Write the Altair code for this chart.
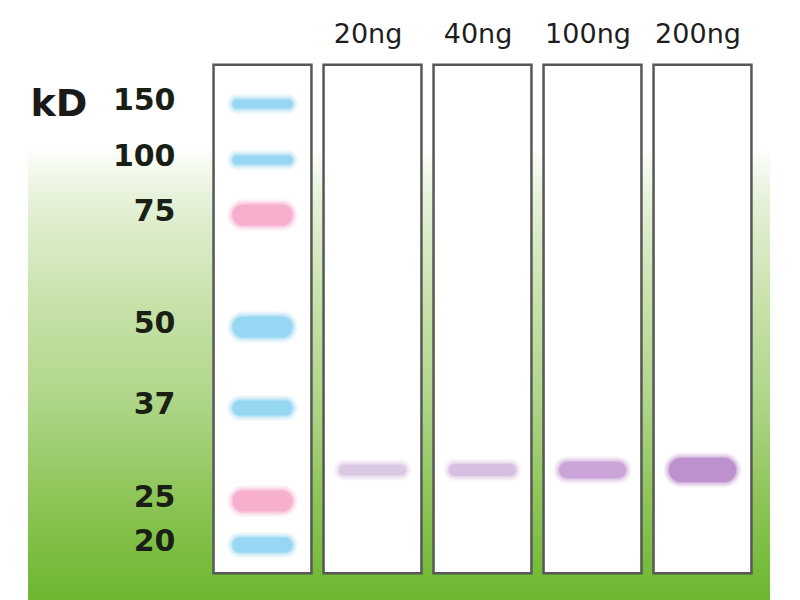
import json

import altair as alt
import pandas as pd

lane_names = ["Marker", "20ng", "40ng", "100ng", "200ng"]

marker_kd = [150, 100, 75, 50, 37, 25, 20]
marker_dye = ["blue", "blue", "pink", "blue", "blue", "pink", "blue"]
marker_strength = [1, 1, 3, 3, 2, 3, 2]

sample_lane = [1, 2, 3, 4]
sample_amount_ng = [20, 40, 100, 200]
sample_band_kd = [29, 29, 29, 29]

gel_top_kd = 185
gel_bottom_kd = 16.8

# ---- layout / style ----
PX_PER_LANE = 110
FONT = "DejaVu Sans"

markers = pd.DataFrame(
    {"lane": 0, "kd": marker_kd, "dye": marker_dye, "strength": marker_strength}
)
samples = pd.DataFrame(
    {"lane": sample_lane, "amount": sample_amount_ng, "kd": sample_band_kd}
)
lanes = pd.DataFrame(
    {"lane": list(range(len(lane_names))), "top": gel_top_kd, "bottom": gel_bottom_kd}
)

x_scale = alt.Scale(domain=[0, 4], range=[234.5, 234.5 + 4 * PX_PER_LANE])
y_scale = alt.Scale(
    domain=marker_kd,
    range=[48, 104, 159, 271, 352, 445, 489],
    zero=False,
    nice=False,
)

x_axis = alt.Axis(
    orient="top",
    values=[1, 2, 3, 4],
    labelExpr=f"{json.dumps(lane_names)}[datum.value]",
    labelFont=FONT,
    labelFontSize=27,
    labelColor="#1e1e1e",
    labelBaseline="alphabetic",
    labelPadding=14,
    labelOffset=-5,
    labelFlush=False,
    labelOverlap=False,
    ticks=False,
    tickSize=0,
    domain=False,
    grid=False,
    title=None,
    zindex=1,
)
y_axis = alt.Axis(
    orient="left",
    values=marker_kd,
    offset=-150,
    labelFont=FONT,
    labelFontSize=30,
    labelFontWeight="bold",
    labelColor="#1a1f16",
    labelPadding=3,
    labelOffset=-4,
    labelOverlap=False,
    ticks=False,
    tickSize=0,
    domain=False,
    grid=False,
    title="kD",
    titleAngle=0,
    titleX=-148,
    titleY=59,
    titleAlign="left",
    titleBaseline="alphabetic",
    titleFont=FONT,
    titleFontSize=38,
    titleFontWeight="bold",
    titleColor="#1a1a1a",
    zindex=1,
)

background = (
    alt.Chart(lanes)
    .mark_rect(
        fill=alt.LinearGradient(
            gradient="linear",
            x1=0, x2=0, y1=0, y2=1,
            stops=[
                alt.GradientStop(color="#ffffff", offset=0),
                alt.GradientStop(color="#ffffff", offset=0.17),
                alt.GradientStop(color="#f8fbf3", offset=0.19),
                alt.GradientStop(color="#e5f1d8", offset=0.265),
                alt.GradientStop(color="#c8e2ab", offset=0.449),
                alt.GradientStop(color="#afd689", offset=0.632),
                alt.GradientStop(color="#8dc557", offset=0.816),
                alt.GradientStop(color="#6cb72f", offset=1),
            ],
        )
    )
    .encode(
        x=alt.value(0), x2=alt.value("width"),
        y=alt.value(0), y2=alt.value("height"),
    )
    .transform_filter("datum.lane == 0")
)

frames = (
    alt.Chart(lanes)
    .transform_calculate(x0="datum.lane - 0.445", x1="datum.lane + 0.445")
    .mark_rect(fill="white", stroke="#575757", strokeWidth=2.5)
    .encode(
        x=alt.X("x0:Q", scale=x_scale, axis=x_axis),
        x2="x1:Q",
        y=alt.Y("top:Q", scale=y_scale, axis=y_axis),
        y2="bottom:Q",
    )
)


def band_layers(data, width_expr, length, color, halos):
    layers = []
    for extra, opacity in halos:
        layer = (
            alt.Chart(data)
            .transform_calculate(w=width_expr)
            .transform_calculate(
                half=f"({length} - datum.w) / 2 / {PX_PER_LANE}",
                wd=f"datum.w + {extra}",
            )
            .transform_calculate(xa="datum.lane - datum.half", xb="datum.lane + datum.half")
            .mark_rule(strokeCap="round", opacity=opacity)
            .encode(
                x=alt.X("xa:Q", scale=x_scale),
                x2="xb:Q",
                y=alt.Y("kd:Q", scale=y_scale),
                strokeWidth=alt.StrokeWidth("wd:Q", scale=None),
                color=color,
            )
        )
        layers.append(layer)
    return layers


# soft edges: stacked translucent strokes, widest first
halo_steps = [(11, 0.1), (8, 0.14), (5, 0.2), (2, 0.3), (0, 0.55)]

marker_color = alt.Color(
    "dye:N",
    scale=alt.Scale(domain=["blue", "pink"], range=["#7fcdf0", "#f59cc3"]),
    legend=None,
)
sample_color = alt.Color(
    "amount:Q",
    scale=alt.Scale(domain=[20, 100, 200], range=["#d2bbde", "#bf8fd0", "#ad76c2"]),
    legend=None,
)

marker_bands = band_layers(markers, "3 + 6 * datum.strength", 60, marker_color, halo_steps)
sample_bands = band_layers(samples, "9 + 0.075 * datum.amount", 67, sample_color, halo_steps)

chart = (
    alt.layer(background, frames, *marker_bands, *sample_bands)
    .resolve_scale(color="independent")
    .properties(
        width=742,
        height=544,
        autosize=alt.AutoSizeParams(type="none"),
        padding={"left": 20, "top": 48, "right": 0, "bottom": 0},
        background="white",
    )
    .configure_view(stroke=None)
)

chart.save("out.html", embed_options={"renderer": "svg", "actions": False})
